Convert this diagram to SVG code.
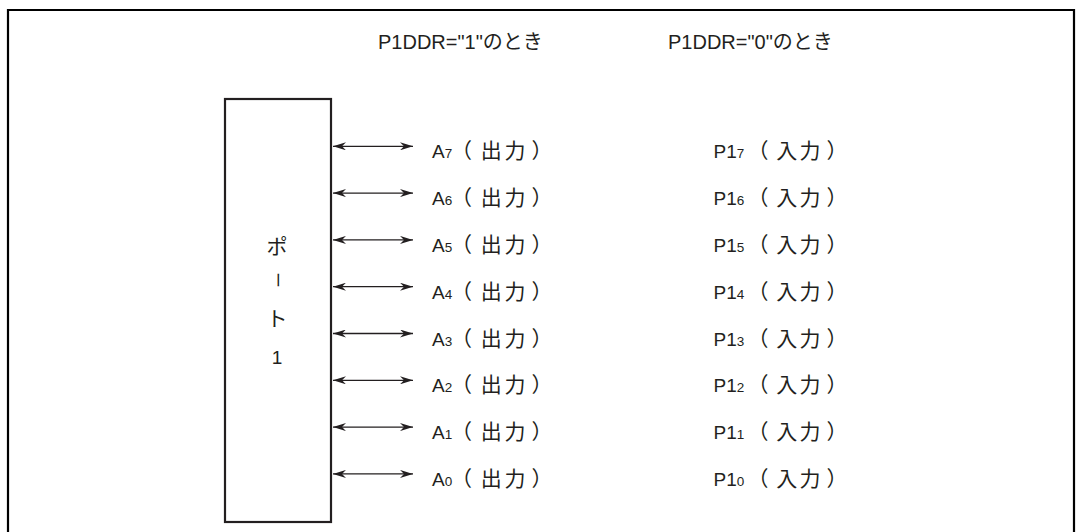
<svg xmlns="http://www.w3.org/2000/svg" width="1083" height="532" viewBox="0 0 1083 532">
<style>
text{font-family:"Liberation Sans","Noto Sans CJK JP",sans-serif;fill:#231f20}
.h{font-size:20px}
.t{font-size:19px}
.s{font-size:13.5px}
.j{font-size:21px}
.c{stroke:#231f20;stroke-width:1.3;fill:none}
</style>
<defs>
<marker id="ah" viewBox="0 0 13 8" refX="13" refY="4" markerWidth="13" markerHeight="8" markerUnits="userSpaceOnUse" orient="auto-start-reverse">
<path d="M0,0 L13,4 L0,8 L4,4 Z" fill="#231f20"/>
</marker>
</defs>
<rect width="1083" height="532" fill="#fff"/>
<path d="M8,540 V10 H1074 V540" fill="none" stroke="#000" stroke-width="2.2"/>
<g id="headers">
<text class="h" x="378" y="49">P1DDR="1"のとき</text>
<text class="h" x="668" y="49">P1DDR="0"のとき</text>
</g>
<g id="port1">
<rect x="225" y="99" width="106" height="423" fill="#fff" stroke="#231f20" stroke-width="2.2"/>
<text class="j" x="277" y="254" text-anchor="middle">ポ</text>
<text x="277" y="280" style="font-size:16px" text-anchor="middle" dominant-baseline="central" transform="rotate(90 277 280)">ー</text>
<text class="j" x="277" y="325.5" text-anchor="middle">ト</text>
<text class="t" x="277" y="364" text-anchor="middle">1</text>
</g>
<g id="connectors">
<line class="c" x1="333" y1="146.3" x2="413" y2="146.3" marker-start="url(#ah)" marker-end="url(#ah)"/>
<line class="c" x1="333" y1="193.1" x2="413" y2="193.1" marker-start="url(#ah)" marker-end="url(#ah)"/>
<line class="c" x1="333" y1="239.9" x2="413" y2="239.9" marker-start="url(#ah)" marker-end="url(#ah)"/>
<line class="c" x1="333" y1="286.7" x2="413" y2="286.7" marker-start="url(#ah)" marker-end="url(#ah)"/>
<line class="c" x1="333" y1="333.5" x2="413" y2="333.5" marker-start="url(#ah)" marker-end="url(#ah)"/>
<line class="c" x1="333" y1="380.3" x2="413" y2="380.3" marker-start="url(#ah)" marker-end="url(#ah)"/>
<line class="c" x1="333" y1="427.1" x2="413" y2="427.1" marker-start="url(#ah)" marker-end="url(#ah)"/>
<line class="c" x1="333" y1="473.9" x2="413" y2="473.9" marker-start="url(#ah)" marker-end="url(#ah)"/>
</g>
<g id="outputs">
<text class="t" y="158.3"><tspan x="432">A</tspan><tspan class="s">7</tspan><tspan class="j" x="451">（</tspan><tspan class="j" x="480.8">出</tspan><tspan class="j" x="504.5">力</tspan><tspan class="j" x="531.5">）</tspan></text>
<text class="t" y="205.1"><tspan x="432">A</tspan><tspan class="s">6</tspan><tspan class="j" x="451">（</tspan><tspan class="j" x="480.8">出</tspan><tspan class="j" x="504.5">力</tspan><tspan class="j" x="531.5">）</tspan></text>
<text class="t" y="251.9"><tspan x="432">A</tspan><tspan class="s">5</tspan><tspan class="j" x="451">（</tspan><tspan class="j" x="480.8">出</tspan><tspan class="j" x="504.5">力</tspan><tspan class="j" x="531.5">）</tspan></text>
<text class="t" y="298.7"><tspan x="432">A</tspan><tspan class="s">4</tspan><tspan class="j" x="451">（</tspan><tspan class="j" x="480.8">出</tspan><tspan class="j" x="504.5">力</tspan><tspan class="j" x="531.5">）</tspan></text>
<text class="t" y="345.5"><tspan x="432">A</tspan><tspan class="s">3</tspan><tspan class="j" x="451">（</tspan><tspan class="j" x="480.8">出</tspan><tspan class="j" x="504.5">力</tspan><tspan class="j" x="531.5">）</tspan></text>
<text class="t" y="392.3"><tspan x="432">A</tspan><tspan class="s">2</tspan><tspan class="j" x="451">（</tspan><tspan class="j" x="480.8">出</tspan><tspan class="j" x="504.5">力</tspan><tspan class="j" x="531.5">）</tspan></text>
<text class="t" y="439.1"><tspan x="432">A</tspan><tspan class="s">1</tspan><tspan class="j" x="451">（</tspan><tspan class="j" x="480.8">出</tspan><tspan class="j" x="504.5">力</tspan><tspan class="j" x="531.5">）</tspan></text>
<text class="t" y="485.9"><tspan x="432">A</tspan><tspan class="s">0</tspan><tspan class="j" x="451">（</tspan><tspan class="j" x="480.8">出</tspan><tspan class="j" x="504.5">力</tspan><tspan class="j" x="531.5">）</tspan></text>
</g>
<g id="inputs">
<text class="t" y="158.3"><tspan x="713.5">P1</tspan><tspan class="s">7</tspan><tspan class="j" x="747.5">（</tspan><tspan class="j" x="776.2">入</tspan><tspan class="j" x="799.5">力</tspan><tspan class="j" x="826.5">）</tspan></text>
<text class="t" y="205.1"><tspan x="713.5">P1</tspan><tspan class="s">6</tspan><tspan class="j" x="747.5">（</tspan><tspan class="j" x="776.2">入</tspan><tspan class="j" x="799.5">力</tspan><tspan class="j" x="826.5">）</tspan></text>
<text class="t" y="251.9"><tspan x="713.5">P1</tspan><tspan class="s">5</tspan><tspan class="j" x="747.5">（</tspan><tspan class="j" x="776.2">入</tspan><tspan class="j" x="799.5">力</tspan><tspan class="j" x="826.5">）</tspan></text>
<text class="t" y="298.7"><tspan x="713.5">P1</tspan><tspan class="s">4</tspan><tspan class="j" x="747.5">（</tspan><tspan class="j" x="776.2">入</tspan><tspan class="j" x="799.5">力</tspan><tspan class="j" x="826.5">）</tspan></text>
<text class="t" y="345.5"><tspan x="713.5">P1</tspan><tspan class="s">3</tspan><tspan class="j" x="747.5">（</tspan><tspan class="j" x="776.2">入</tspan><tspan class="j" x="799.5">力</tspan><tspan class="j" x="826.5">）</tspan></text>
<text class="t" y="392.3"><tspan x="713.5">P1</tspan><tspan class="s">2</tspan><tspan class="j" x="747.5">（</tspan><tspan class="j" x="776.2">入</tspan><tspan class="j" x="799.5">力</tspan><tspan class="j" x="826.5">）</tspan></text>
<text class="t" y="439.1"><tspan x="713.5">P1</tspan><tspan class="s">1</tspan><tspan class="j" x="747.5">（</tspan><tspan class="j" x="776.2">入</tspan><tspan class="j" x="799.5">力</tspan><tspan class="j" x="826.5">）</tspan></text>
<text class="t" y="485.9"><tspan x="713.5">P1</tspan><tspan class="s">0</tspan><tspan class="j" x="747.5">（</tspan><tspan class="j" x="776.2">入</tspan><tspan class="j" x="799.5">力</tspan><tspan class="j" x="826.5">）</tspan></text>
</g>
</svg>
